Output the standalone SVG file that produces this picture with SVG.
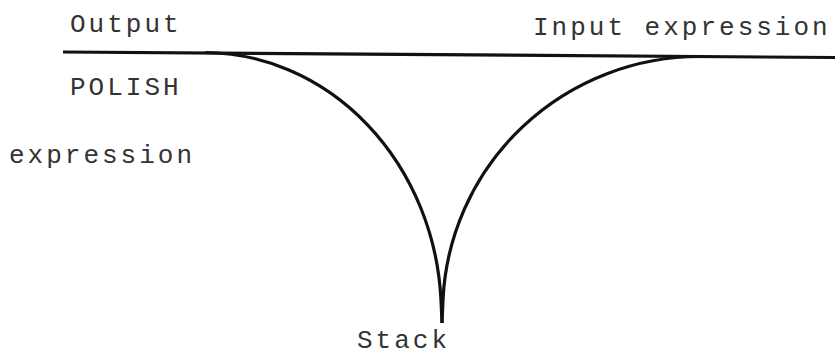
<svg xmlns="http://www.w3.org/2000/svg" width="835" height="358" viewBox="0 0 835 358">
<style>
.t{font-family:"Liberation Mono","DejaVu Sans Mono",monospace;font-size:26px;fill:#333;letter-spacing:3px}
.track{fill:none;stroke:#111;stroke-width:3.2;stroke-linecap:butt}
</style>
<rect width="835" height="358" fill="#fff"/>
<g id="connectors">
<path class="track" d="M63,52 L835,57.5"/>
<path class="track" d="M205,52.5 A238,262 0 0,1 441,300 L442,323"/>
<path class="track" d="M700,56.5 A257,255 0 0,0 443,300 L442,323"/>
</g>
<g id="output"><text class="t" x="70" y="32">Output</text></g>
<g id="input"><text class="t" x="533" y="35">Input expression</text></g>
<g id="polish"><text class="t" x="70" y="95">POLISH</text><text class="t" x="9" y="163">expression</text></g>
<g id="stack"><text class="t" x="357" y="348">Stack</text></g>
</svg>
